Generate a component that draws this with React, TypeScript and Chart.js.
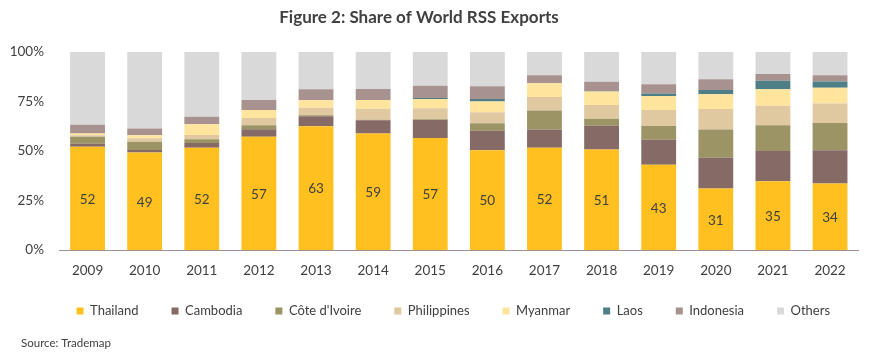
import React, { useEffect, useRef } from "react";
import { Chart, registerables } from "chart.js";

Chart.register(...registerables);

const years = ["2009", "2010", "2011", "2012", "2013", "2014", "2015", "2016", "2017", "2018", "2019", "2020", "2021", "2022"];
const thailand = [52.2, 49.3, 51.7, 57.2, 62.5, 58.9, 56.6, 50.4, 51.7, 50.8, 43.1, 31.0, 34.7, 33.6];
const cambodia = [1.5, 1.2, 2.3, 3.8, 5.0, 6.6, 9.1, 9.8, 9.1, 12.0, 12.6, 15.6, 15.3, 16.8];
const coteDIvoire = [3.5, 4.2, 1.9, 2.0, 0.5, 0.3, 0.3, 3.8, 9.6, 3.5, 6.9, 14.2, 13.0, 13.8];
const philippines = [0.8, 1.7, 2.2, 3.7, 3.9, 5.6, 5.6, 5.6, 6.9, 6.9, 8.1, 10.4, 9.9, 9.8];
const myanmar = [0.8, 1.5, 5.4, 4.0, 3.7, 4.4, 4.7, 5.4, 6.9, 6.8, 7.1, 7.4, 8.3, 7.9];
const laos = [0, 0, 0, 0, 0, 0, 0.5, 1.3, 0, 0.3, 1.3, 2.2, 4.3, 3.2];
const indonesia = [4.4, 3.5, 3.8, 5.1, 5.6, 5.5, 6.2, 6.4, 4.0, 4.7, 4.6, 5.4, 3.4, 3.2];
const others = [36.8, 38.6, 32.7, 24.2, 18.8, 18.7, 17.0, 17.3, 11.8, 15.0, 16.3, 13.8, 11.1, 11.7];
const yTicks = [0, 25, 50, 75, 100];

const FONT = "Lato, 'Open Sans', sans-serif";
const TEXT = "#404040";

const seriesList = [
  { label: "Thailand", data: thailand, color: "#FFC020" },
  { label: "Cambodia", data: cambodia, color: "#866A66" },
  { label: "Côte d'Ivoire", data: coteDIvoire, color: "#9D9465" },
  { label: "Philippines", data: philippines, color: "#E0C8A0" },
  { label: "Myanmar", data: myanmar, color: "#FFE49E" },
  { label: "Laos", data: laos, color: "#4F7F86" },
  { label: "Indonesia", data: indonesia, color: "#A8928F" },
  { label: "Others", data: others, color: "#D9D9D9" },
];

const extrasPlugin = {
  id: "extras",
  afterLayout(chart: any) {
    const lg = chart.legend;
    if (lg) {
      lg.left += 24;
      lg.right += 24;
      lg.top -= 8.5;
      lg.bottom -= 8.5;
    }
  },
  afterDatasetsDraw(chart: any) {
    const ctx = chart.ctx;
    ctx.save();
    const meta = chart.getDatasetMeta(0);
    ctx.font = `13.5px ${FONT}`;
    ctx.fillStyle = TEXT;
    ctx.textAlign = "center";
    ctx.textBaseline = "middle";
    meta.data.forEach((bar: any, i: number) => {
      const v = thailand[i];
      ctx.fillText(String(Math.round(v)), bar.x, (bar.y + bar.base) / 2 + 1);
    });
    ctx.font = `bold 17px ${FONT}`;
    ctx.fillText("Figure 2: Share of World RSS Exports", 419, 18);
    ctx.font = `11.5px ${FONT}`;
    ctx.textAlign = "left";
    ctx.fillText("Source: Trademap", 21, 343);
    ctx.restore();
  },
};

export default function App() {
  const ref = useRef<HTMLCanvasElement | null>(null);
  useEffect(() => {
    document.body.style.margin = "0";
    if (!ref.current) return;
    const chart = new Chart(ref.current, {
      type: "bar",
      data: {
        labels: years,
        datasets: seriesList.map((s) => ({
          label: s.label,
          data: s.data,
          backgroundColor: s.color,
          borderWidth: 0,
          barPercentage: 0.61,
          categoryPercentage: 1,
        })),
      },
      options: {
        animation: false,
        responsive: false,
        maintainAspectRatio: false,
        layout: { padding: { top: 52, left: 0, right: 11.4, bottom: 23 } },
        plugins: {
          title: { display: false },
          tooltip: { enabled: false },
          legend: {
            position: "bottom",
            labels: {
              boxWidth: 7,
              boxHeight: 7,
              padding: 33,
              color: TEXT,
              font: { family: FONT, size: 13 },
            },
          },
        },
        scales: {
          x: {
            stacked: true,
            grid: { display: false, drawTicks: false },
            border: { display: true, color: "#A08F8D", width: 1 },
            ticks: { color: TEXT, font: { family: FONT, size: 13.5 }, padding: 13, maxRotation: 0 },
            afterFit: (s: any) => {
              s.height = 30;
            },
          },
          y: {
            stacked: true,
            min: 0,
            max: 100,
            afterBuildTicks: (s: any) => {
              s.ticks = yTicks.map((v) => ({ value: v }));
            },
            grid: { display: false, drawTicks: false },
            border: { display: false },
            ticks: {
              color: TEXT,
              font: { family: FONT, size: 13.5 },
              padding: 15,
              callback: (v: any) => `${v}%`,
            },
            afterFit: (s: any) => {
              s.width = 59;
            },
          },
        },
      },
      plugins: [extrasPlugin],
    });
    return () => chart.destroy();
  }, []);
  return (
    <div style={{ width: 870, height: 359 }}>
      <canvas ref={ref} width={870} height={359} style={{ display: "block", width: 870, height: 359 }} />
    </div>
  );
}
